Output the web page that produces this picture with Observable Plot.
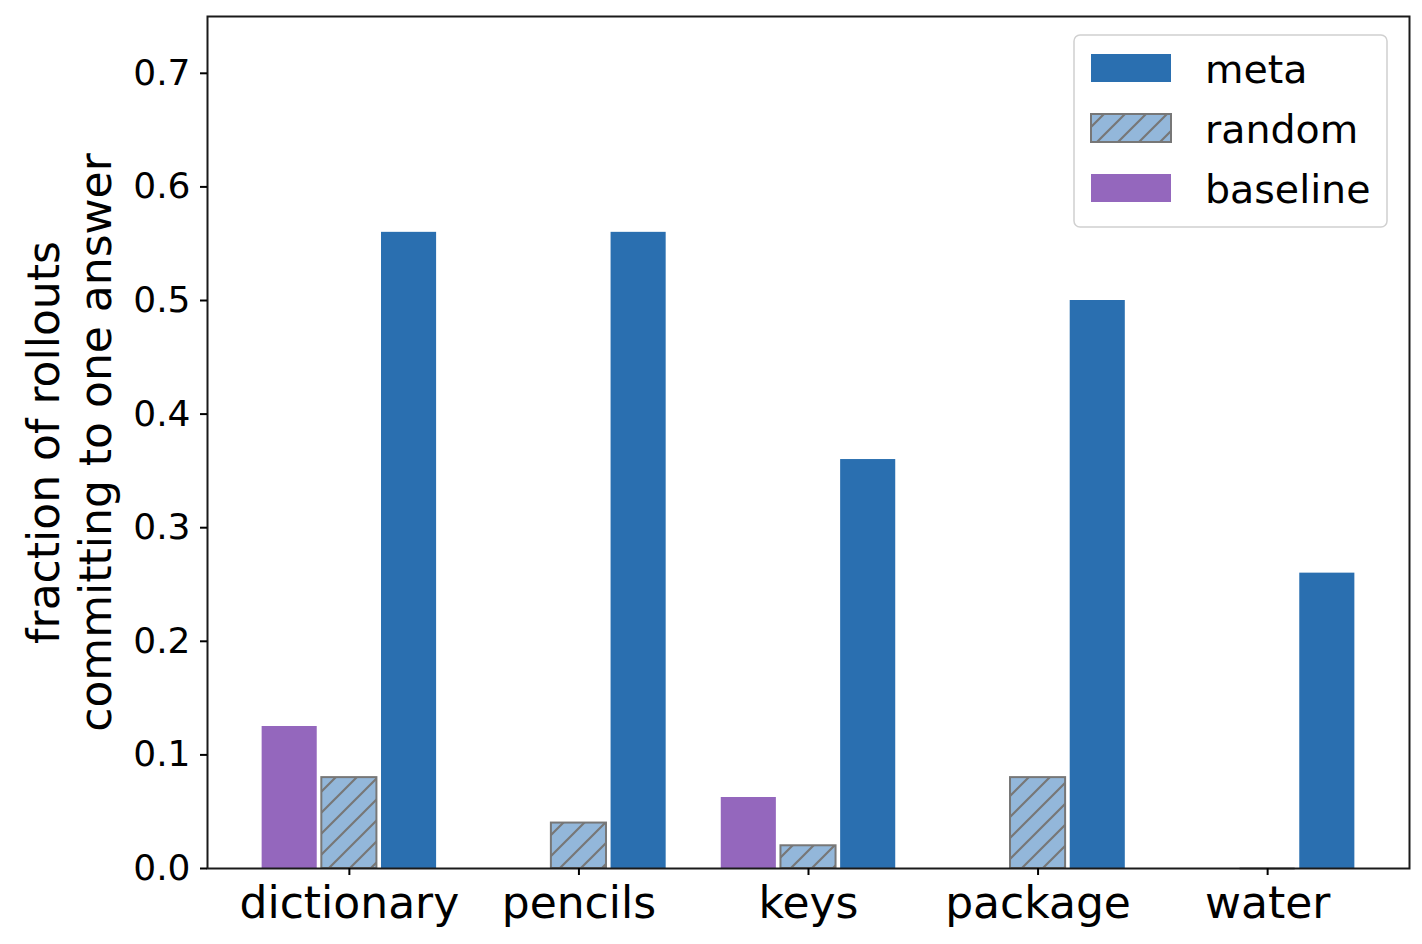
<!DOCTYPE html>
<html>
<head>
<meta charset="utf-8">
<script src="https://cdn.jsdelivr.net/npm/d3@7"></script>
<script src="https://cdn.jsdelivr.net/npm/@observablehq/plot@0.6"></script>
<style>
  html, body { margin: 0; padding: 0; background: #fff; }
  svg { display: block; }
</style>
</head>
<body>
<div id="chart"></div>
<script>
// ---- data ----
const categories = ["dictionary", "pencils", "keys", "package", "water"];
const series = ["baseline", "random", "meta"];
const baselineValues = [0.125, 0, 0.0625, 0, 0];
const randomValues = [0.08, 0.04, 0.02, 0.08, 0];
const metaValues = [0.56, 0.56, 0.36, 0.5, 0.26];
const yTicks = [0, 0.1, 0.2, 0.3, 0.4, 0.5, 0.6, 0.7];
const legendOrder = ["meta", "random", "baseline"];
const yLabel = "fraction of rollouts\ncommitting to one answer";

// ---- styling / layout ----
const colors = { meta: "#2a6fb0", random: "url(#hatch)", baseline: "#9467bd" };
const randomFill = "#93b7da";
const edgeGray = "#777777";
const offsets = { baseline: -0.26, random: 0, meta: 0.26 };
const barWidth = 0.24;
const valuesBySeries = { baseline: baselineValues, random: randomValues, meta: metaValues };

const rows = series.flatMap(s => categories.map((c, i) => ({
  category: c, index: i, series: s, value: valuesBySeries[s][i],
  x1: i + offsets[s] - barWidth / 2, x2: i + offsets[s] + barWidth / 2
})));
const bySeries = s => rows.filter(d => d.series === s);

const W = 1422, H = 944;
const mL = 207, mR = 13, mT = 16, mB = 76;

const chart = Plot.plot({
  width: W, height: H,
  marginLeft: mL, marginRight: mR, marginTop: mT, marginBottom: mB,
  style: { fontFamily: "DejaVu Sans", background: "#fff", color: "#000" },
  x: { domain: [-0.618, 4.618] },
  y: { domain: [0, 0.75] },
  marks: [
    Plot.rect(bySeries("baseline").filter(d => d.value > 0), { x1: "x1", x2: "x2", y1: 0, y2: "value", fill: colors.baseline }),
    Plot.rect(bySeries("random").filter(d => d.value > 0), { x1: "x1", x2: "x2", y1: 0, y2: "value", fill: colors.random, stroke: edgeGray, strokeWidth: 2 }),
    Plot.ruleY(bySeries("random").filter(d => d.value === 0), { x1: "x1", x2: "x2", y: "value", stroke: edgeGray, strokeWidth: 2 }),
    Plot.rect(bySeries("meta"), { x1: "x1", x2: "x2", y1: 0, y2: "value", fill: colors.meta }),
    Plot.frame({ stroke: "#1a1a1a", strokeWidth: 2 }),
    Plot.axisX({ ticks: categories.map((c, i) => i), tickFormat: i => categories[i], tickSize: 7, tickPadding: 11, fontSize: 44, strokeWidth: 2, label: null }),
    Plot.axisY({ ticks: yTicks, tickFormat: d3.format(".1f"), tickSize: 7, tickPadding: 10, fontSize: 36, strokeWidth: 2, label: null }),
    Plot.text([yLabel], { frameAnchor: "left", rotate: -90, dx: -139.5, fontSize: 44, lineAnchor: "middle", textAnchor: "middle", lineHeight: 1.2, fill: "#000" })
  ]
});

// hatch pattern
const svg = d3.select(chart);
const s = 21;
const defs = svg.insert("defs", ":first-child");
const pat = defs.append("pattern").attr("id", "hatch").attr("patternUnits", "userSpaceOnUse")
  .attr("width", s).attr("height", s);
pat.append("rect").attr("width", s).attr("height", s).attr("fill", randomFill);
pat.append("path")
  .attr("d", `M0,${s} L${s},0 M${-s/2},${s/2} L${s/2},${-s/2} M${s/2},${s*1.5} L${s*1.5},${s/2}`)
  .attr("stroke", edgeGray).attr("stroke-width", 2.2).attr("fill", "none");

// legend
const lg = svg.append("g").attr("font-family", "DejaVu Sans").attr("text-anchor", "start");
lg.append("rect").attr("x", 1074).attr("y", 35).attr("width", 313).attr("height", 192)
  .attr("rx", 6).attr("fill", "#fff").attr("fill-opacity", 0.8).attr("stroke", "#d0d0d0").attr("stroke-width", 1.5);
legendOrder.forEach((name, k) => {
  const cy = 68 + k * 60;
  const r = lg.append("rect").attr("x", 1091).attr("y", cy - 14).attr("width", 80).attr("height", 28)
    .attr("fill", colors[name]);
  if (name === "random") r.attr("stroke", edgeGray).attr("stroke-width", 2);
  lg.append("text").attr("x", 1205).attr("y", cy + 14.5).attr("font-size", 39.5)
    .attr("text-anchor", "start").attr("fill", "#000").text(name);
});

document.getElementById("chart").appendChild(chart);
</script>
</body>
</html>
